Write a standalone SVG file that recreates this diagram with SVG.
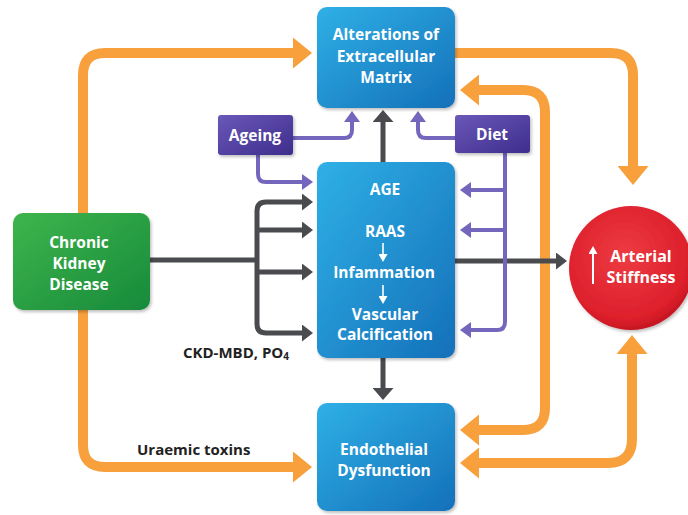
<svg xmlns="http://www.w3.org/2000/svg" width="688" height="515" viewBox="0 0 688 515">
  <defs>
    <linearGradient id="blueFill" x1="0" y1="0" x2="1" y2="1">
      <stop offset="0" stop-color="#2fb0e6"/>
      <stop offset="1" stop-color="#1470b9"/>
    </linearGradient>
    <linearGradient id="greenFill" x1="0" y1="0" x2="1" y2="1">
      <stop offset="0" stop-color="#3fb54c"/>
      <stop offset="1" stop-color="#178a3b"/>
    </linearGradient>
    <linearGradient id="purpleFill" x1="0" y1="0" x2="1" y2="1">
      <stop offset="0" stop-color="#6a58b8"/>
      <stop offset="1" stop-color="#3e2d8c"/>
    </linearGradient>
    <radialGradient id="redFill" cx="0.45" cy="0.4" r="0.65">
      <stop offset="0" stop-color="#ee3b42"/>
      <stop offset="0.8" stop-color="#dc1f2b"/>
      <stop offset="1" stop-color="#b8121d"/>
    </radialGradient>
    <filter id="shadow" x="-10%" y="-10%" width="125%" height="125%">
      <feDropShadow dx="1.5" dy="2" stdDeviation="1.5" flood-color="#000" flood-opacity="0.25"/>
    </filter>
    <marker id="headOrange" markerUnits="userSpaceOnUse" markerWidth="19" markerHeight="31" viewBox="0 0 19 31" refX="6" refY="15.5" orient="auto-start-reverse">
      <path d="M0,0 L19,15.5 L0,31 z" fill="#f7a03c"/>
    </marker>
    <marker id="headDark" markerUnits="userSpaceOnUse" markerWidth="11" markerHeight="17" viewBox="0 0 11 17" refX="3" refY="8.5" orient="auto-start-reverse">
      <path d="M0,0 L11,8.5 L0,17 z" fill="#4a4b4f"/>
    </marker>
    <marker id="headDarkWide" markerUnits="userSpaceOnUse" markerWidth="12" markerHeight="21" viewBox="0 0 12 21" refX="3" refY="10.5" orient="auto">
      <path d="M0,0 L12,10.5 L0,21 z" fill="#4a4b4f"/>
    </marker>
    <marker id="headPurple" markerUnits="userSpaceOnUse" markerWidth="11" markerHeight="16" viewBox="0 0 11 16" refX="3" refY="8" orient="auto-start-reverse">
      <path d="M0,0 L11,8 L0,16 z" fill="#7465bd"/>
    </marker>
    <marker id="headWhite" markerUnits="userSpaceOnUse" markerWidth="8" markerHeight="9" viewBox="0 0 8 9" refX="2" refY="4.5" orient="auto">
      <path d="M0,0 L8,4.5 L0,9 z" fill="#ffffff"/>
    </marker>
  </defs>
  <style>
    .orange { fill: none; stroke: #f7a03c; stroke-width: 10; }
    .dark { fill: none; stroke: #4a4b4f; stroke-width: 5; }
    .purple { fill: none; stroke: #7465bd; stroke-width: 4; }
    .box { fill: url(#blueFill); filter: url(#shadow); }
    .label { font-family: "Open Sans", "Noto Sans", sans-serif; font-weight: bold; fill: #ffffff; text-anchor: middle; font-size: 15.5px; }
    .note { font-family: "Open Sans", "Noto Sans", sans-serif; font-weight: bold; fill: #222222; font-size: 15px; }
  </style>

  <!-- connectors -->
  <g id="connectors">
    <!-- orange pathways -->
    <path class="orange" d="M83,213 V75 Q83,53 105,53 H299" marker-end="url(#headOrange)"/>
    <path class="orange" d="M455,53 H611 Q633,53 633,75 V172" marker-end="url(#headOrange)"/>
    <path class="orange" d="M473,90 H523 Q545,90 545,112 V408 Q545,430 523,430 H473" marker-start="url(#headOrange)" marker-end="url(#headOrange)"/>
    <path class="orange" d="M632,348 V439 Q632,463 608,463 H473" marker-start="url(#headOrange)" marker-end="url(#headOrange)"/>
    <path class="orange" d="M83,310 V445 Q83,467 105,467 H299" marker-end="url(#headOrange)"/>

    <!-- dark pathways -->
    <path class="dark" d="M150,260 H257"/>
    <path class="dark" d="M305,202 H266 Q257,202 257,211 V324 Q257,333 266,333 H305" marker-start="url(#headDark)" marker-end="url(#headDark)"/>
    <path class="dark" d="M257,230 H305" marker-end="url(#headDark)"/>
    <path class="dark" d="M257,272 H305" marker-end="url(#headDark)"/>
    <path class="dark" d="M383,162 V119" marker-end="url(#headDarkWide)"/>
    <path class="dark" d="M383,358 V391" marker-end="url(#headDarkWide)"/>
    <path class="dark" d="M453,261 H559" marker-end="url(#headDark)"/>

    <!-- purple pathways -->
    <path class="purple" d="M293,138 H344 Q352,138 352,130 V119" marker-end="url(#headPurple)"/>
    <path class="purple" d="M258,155 V174 Q258,182 266,182 H305" marker-end="url(#headPurple)"/>
    <path class="purple" d="M455,138 H426 Q418,138 418,130 V119" marker-end="url(#headPurple)"/>
    <path class="purple" d="M505,153 V322 Q505,330 497,330 H468" marker-end="url(#headPurple)"/>
    <path class="purple" d="M505,190 H468" marker-end="url(#headPurple)"/>
    <path class="purple" d="M505,230 H468" marker-end="url(#headPurple)"/>
  </g>

  <!-- nodes -->
  <g id="matrix">
    <rect class="box" x="317" y="7" width="138" height="101" rx="10"/>
    <text class="label" x="386" y="40">Alterations of</text>
    <text class="label" x="386" y="62">Extracellular</text>
    <text class="label" x="386" y="83">Matrix</text>
  </g>

  <g id="mechanisms">
    <rect class="box" x="317" y="162" width="138" height="196" rx="10"/>
    <text class="label" x="385" y="195">AGE</text>
    <text class="label" x="385" y="237">RAAS</text>
    <path d="M383,243 V256" stroke="#ffffff" stroke-width="1.6" marker-end="url(#headWhite)"/>
    <text class="label" x="384" y="278">Infammation</text>
    <path d="M383,285 V298" stroke="#ffffff" stroke-width="1.6" marker-end="url(#headWhite)"/>
    <text class="label" x="385" y="320">Vascular</text>
    <text class="label" x="385" y="340">Calcification</text>
  </g>

  <g id="endothelial">
    <rect class="box" x="317" y="403" width="138" height="108" rx="10"/>
    <text class="label" x="384" y="455">Endothelial</text>
    <text class="label" x="384" y="476">Dysfunction</text>
  </g>

  <g id="ckd">
    <rect x="13" y="213" width="137" height="97" rx="10" fill="url(#greenFill)" filter="url(#shadow)"/>
    <text class="label" x="79" y="248">Chronic</text>
    <text class="label" x="79" y="269">Kidney</text>
    <text class="label" x="79" y="290">Disease</text>
  </g>

  <g id="ageing">
    <rect x="218" y="115" width="75" height="40" rx="3" fill="url(#purpleFill)" filter="url(#shadow)"/>
    <text class="label" x="255" y="141">Ageing</text>
  </g>

  <g id="diet">
    <rect x="455" y="115" width="75" height="38" rx="3" fill="url(#purpleFill)" filter="url(#shadow)"/>
    <text class="label" x="492" y="140">Diet</text>
  </g>

  <g id="stiffness">
    <circle cx="631" cy="268" r="62" fill="url(#redFill)" filter="url(#shadow)"/>
    <path d="M593,284 V252" stroke="#ffffff" stroke-width="2" marker-end="url(#headWhite)"/>
    <text class="label" style="font-size:16px" x="641" y="262">Arterial</text>
    <text class="label" style="font-size:16px" x="641" y="283">Stiffness</text>
  </g>

  <!-- free labels -->
  <text class="note" x="183" y="358">CKD-MBD, PO<tspan font-size="10" dy="2">4</tspan></text>
  <text class="note" x="137" y="455">Uraemic toxins</text>
</svg>
